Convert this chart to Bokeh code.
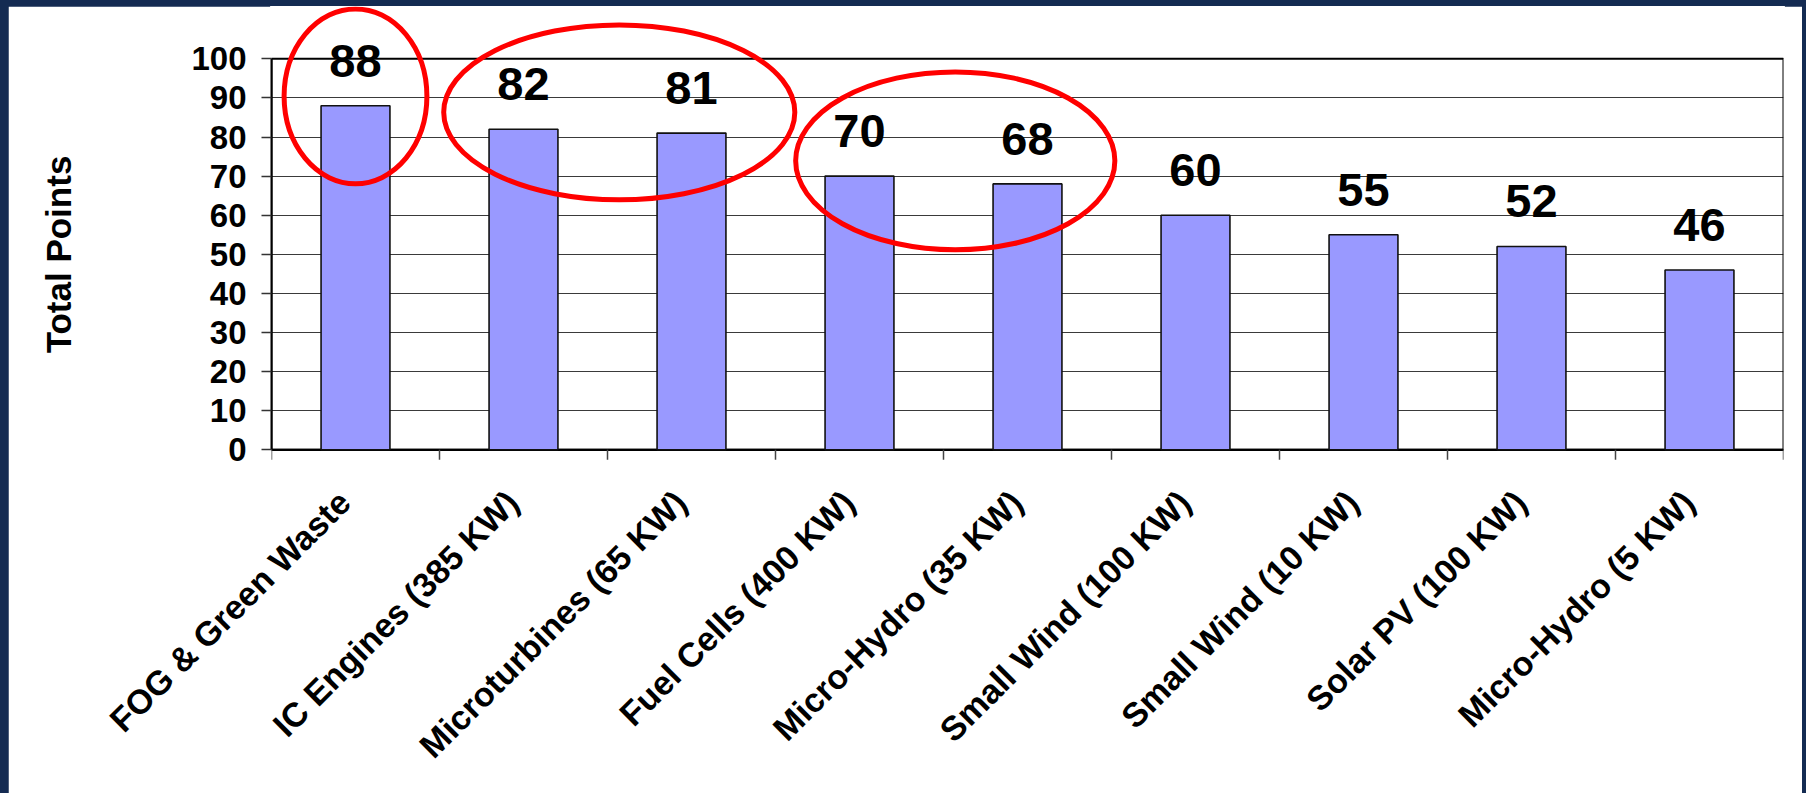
from math import pi
from bokeh.plotting import figure
from bokeh.models import Range1d, FixedTicker, ColumnDataSource
from bokeh.layouts import column
from bokeh.embed import file_html
from bokeh.resources import INLINE

# ---------------- data ----------------
categories = [
    "FOG & Green Waste",
    "IC Engines (385 KW)",
    "Microturbines (65 KW)",
    "Fuel Cells (400 KW)",
    "Micro-Hydro (35 KW)",
    "Small Wind (100 KW)",
    "Small Wind (10 KW)",
    "Solar PV (100 KW)",
    "Micro-Hydro (5 KW)",
]
total_points = [88, 82, 81, 70, 68, 60, 55, 52, 46]
y_ticks = [0, 10, 20, 30, 40, 50, 60, 70, 80, 90, 100]
y_axis_title = "Total Points"
highlight_groups = [
    ["FOG & Green Waste"],
    ["IC Engines (385 KW)", "Microturbines (65 KW)"],
    ["Fuel Cells (400 KW)", "Micro-Hydro (35 KW)"],
]

# ---------------- style ----------------
NAVY = "#142b52"
BAR_FILL = "#9999FF"
FONT = "Liberation Sans"
PX_PER_UNIT = 3.91           # vertical pixels per point
FIG_W, FIG_H = 1794, 787
MB_LEFT, MB_RIGHT, MB_TOP, MB_BOTTOM = 263, 19, 0, 291
frame_h = FIG_H - MB_TOP - MB_BOTTOM
frame_w = FIG_W - MB_LEFT - MB_RIGHT
zero_px_from_top = 443.3
y_end = zero_px_from_top / PX_PER_UNIT
y_start = -(frame_h - zero_px_from_top) / PX_PER_UNIT
TICK_LEN_PX = 10
LABEL_SHIFT_PX = 11

# hand-drawn highlight ellipse geometry (per group)
ellipse_dx = [0.0, 0.07, 0.07]        # category units
ellipse_w = [0.85, 2.09, 1.90]        # category units
ellipse_pad = [2.4, 4.3, 3.9]         # points above group's max
ellipse_h = [175, 175, 178]           # screen px

n = len(categories)
xs = list(range(n))
px_per_cat = frame_w / n

p = figure(
    width=FIG_W, height=FIG_H,
    x_range=Range1d(-0.5, n - 0.5),
    y_range=Range1d(y_start, y_end),
    output_backend="svg", toolbar_location=None,
    min_border_left=MB_LEFT, min_border_right=MB_RIGHT,
    min_border_top=MB_TOP, min_border_bottom=MB_BOTTOM,
    background_fill_color="white", border_fill_color="white",
)
# white outline hides the seam between frame and border fills
p.outline_line_color = "white"
p.outline_line_width = 3
p.margin = (6, 4, 0, 8)

# grid
p.xgrid.visible = False
p.ygrid.ticker = FixedTicker(ticks=y_ticks)
p.ygrid.grid_line_color = "#3a3a3a"
p.ygrid.grid_line_width = 1.2

# plot box
p.quad(left=[-0.5], right=[n - 0.5], bottom=[y_ticks[0]], top=[y_ticks[-1]],
       fill_color=None, line_color="black", line_width=2)
# bottom axis line
p.segment(x0=[-0.5], y0=[0], x1=[n - 0.5], y1=[0], line_color="black", line_width=2.2)

# boundary ticks under the x axis
bounds_x = [i - 0.5 for i in range(n + 1)]
tick_bottom = -TICK_LEN_PX / PX_PER_UNIT
p.segment(x0=bounds_x, y0=[0] * len(bounds_x), x1=bounds_x,
          y1=[tick_bottom] * len(bounds_x), line_color="#444444", line_width=1.5)

# bars
src = ColumnDataSource(dict(x=xs, top=total_points,
                            label=[str(v) for v in total_points]))
p.vbar(x="x", top="top", bottom=0, width=0.41, source=src,
       fill_color=BAR_FILL, line_color="#111111", line_width=1.6)

# value labels
p.text(x="x", y="top", text="label", source=src, y_offset=-45,
       text_align="center", text_baseline="alphabetic",
       text_font={"value": FONT}, text_font_style="bold",
       text_font_size="47px", text_color="black")

# highlight ellipses
ex, ey = [], []
for k, g in enumerate(highlight_groups):
    idx = [categories.index(c) for c in g]
    ex.append(sum(idx) / len(idx) + ellipse_dx[k])
    ey.append(max(total_points[i] for i in idx) + ellipse_pad[k])
p.ellipse(x=ex, y=ey, width=ellipse_w, height=ellipse_h, height_units="screen",
          fill_color=None, line_color="#FF0000", line_width=5)

# y axis
ya = p.yaxis[0]
ya.ticker = FixedTicker(ticks=y_ticks)
ya.bounds = (y_ticks[0], y_ticks[-1])
ya.axis_line_color = "black"
ya.axis_line_width = 2
ya.major_tick_out = 10
ya.major_tick_in = 0
ya.major_tick_line_color = "#333333"
ya.major_tick_line_width = 1.5
ya.minor_tick_line_color = None
ya.major_label_standoff = 15
ya.major_label_text_font = FONT
ya.major_label_text_font_style = "bold"
ya.major_label_text_font_size = "33px"
ya.major_label_text_color = "black"
ya.axis_label = y_axis_title
ya.axis_label_text_font = FONT
ya.axis_label_text_font_style = "bold"
ya.axis_label_text_font_size = "35px"
ya.axis_label_text_color = "black"
ya.axis_label_standoff = 110

# x axis (labels only)
shift = LABEL_SHIFT_PX / px_per_cat
label_pos = [round(i - shift, 4) for i in xs]
xa = p.xaxis[0]
xa.ticker = FixedTicker(ticks=label_pos)
xa.major_label_overrides = {pos: c for pos, c in zip(label_pos, categories)}
xa.axis_line_color = None
xa.major_tick_out = 0
xa.major_tick_in = 0
xa.minor_tick_line_color = None
xa.major_label_orientation = pi / 4
xa.major_label_standoff = -6
xa.major_label_text_font = FONT
xa.major_label_text_font_style = "bold"
xa.major_label_text_font_size = "34px"
xa.major_label_text_color = "black"

layout = column(p, styles={"background-color": NAVY})

open("out.html", "w").write(file_html(layout, INLINE))
